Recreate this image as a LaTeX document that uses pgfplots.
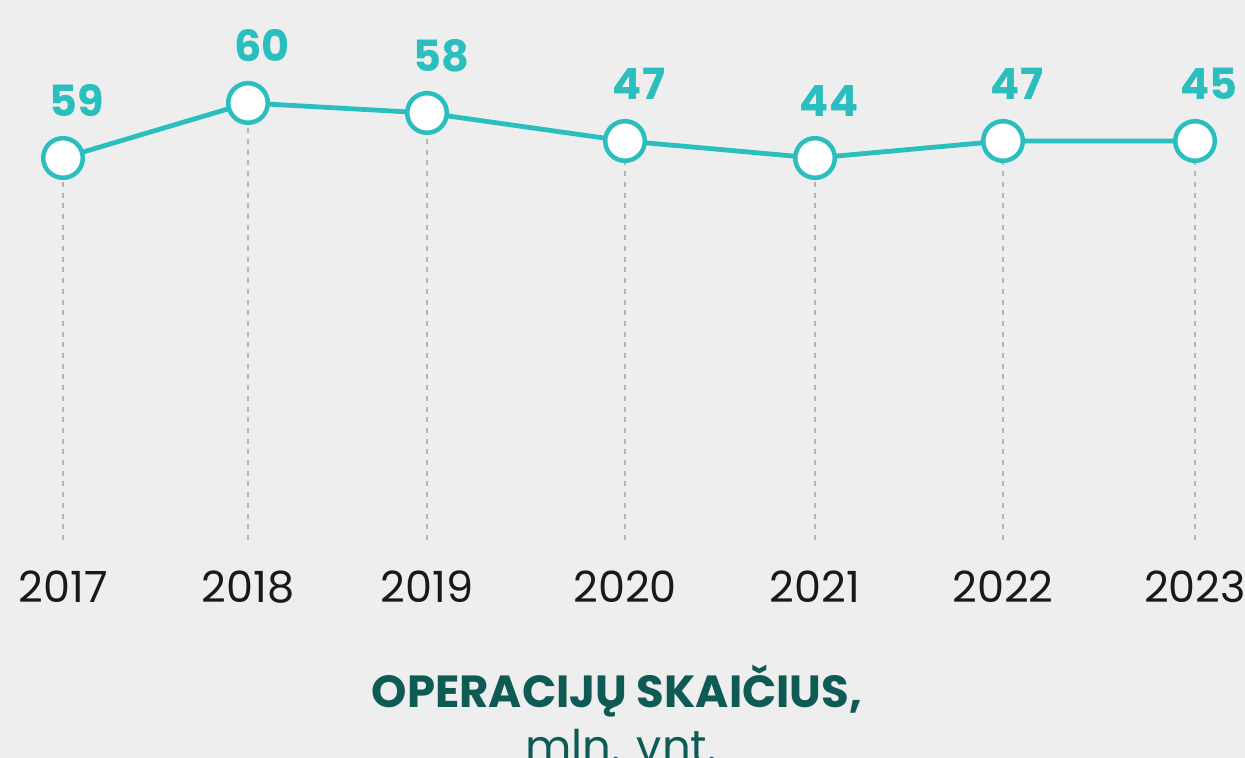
\documentclass[border=0pt]{standalone}
\usepackage{pgfplots}
\usepackage{pgfplotstable}
\pgfplotsset{compat=1.18}
\usepackage{fontspec}
\setmainfont{Poppins}
\definecolor{bgc}{HTML}{EEEEEE}
\definecolor{teal1}{HTML}{2BBEBE}
\definecolor{dteal}{HTML}{0E5A55}
\definecolor{dashc}{HTML}{B5B5B5}
\pgfplotstableread{
x y label
63 382 59
248 437 60
427 427 58
625 399 47
815 382 44
1003 399 47
1195 399 45
}\data
\begin{document}
\begin{tikzpicture}
\begin{axis}[
  name=ax,
  scale only axis,
  width=622.5pt, height=379pt,
  xmin=0, xmax=1245, ymin=-218, ymax=540,
  clip=false,
  axis background/.style={fill=bgc},
  axis line style={draw=none},
  tick style={draw=none},
  ytick=\empty,
  xtick={63,248,427,625,815,1003,1195},
  xticklabels={2017,2018,2019,2020,2021,2022,2023},
  xticklabel style={anchor=base, yshift=77.5pt, font=\fontsize{21.5}{24}\selectfont, text=black!90},
  /pgf/number format/assume math mode=true,
]
\addplot[ycomb, draw=dashc, line width=0.7pt, dash pattern=on 2.5pt off 2.85pt, no marks] table[x=x,y=y]{\data};
\addplot[teal1, line width=2.4pt, mark=*, mark size=9.9pt,
  mark options={fill=white, draw=teal1, line width=2.25pt},
  nodes near coords, point meta=explicit symbolic,
  every node near coord/.style={anchor=center, yshift=28.5pt, xshift=7pt, text=teal1, font=\fontsize{21.5}{24}\selectfont\bfseries}]
  table[x=x,y=y,meta=label]{\data};
\node[anchor=base, text=dteal, font=\fontsize{22.5}{26}\selectfont\bfseries] at (axis cs:617,-168) {OPERACIJŲ SKAIČIUS,};
\node[anchor=base, text=dteal, font=\fontsize{22.5}{26}\selectfont] at (axis cs:621,-223) {mln. vnt.};
\end{axis}
\pgfresetboundingbox
\useasboundingbox (ax.south west) rectangle (ax.north east);
\end{tikzpicture}
\end{document}
